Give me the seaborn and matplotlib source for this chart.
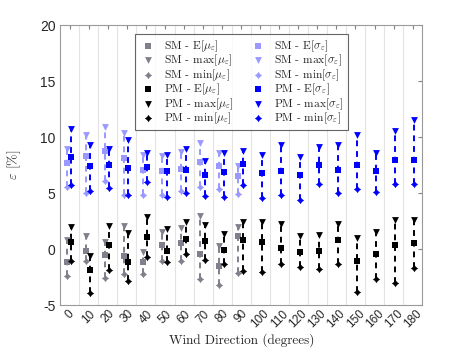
import numpy as np
import pandas as pd
import matplotlib
matplotlib.use('Agg')
import matplotlib.pyplot as plt
import seaborn as sns
from matplotlib.path import Path

# wind directions
angles = list(range(0, 181, 10))
sm_angles = angles[:10]

# PM
pm_mu_E = [0.6, -1.85, 0.35, -1.2, 1.1, -0.15, 0.9, 0.75, -0.05, 0.85, 0.65, 0.05, -0.3, -0.15, 0.85, -1.05, -0.45, 0.35, 0.55]
pm_mu_max = [1.95, -0.6, 2.05, 1.45, 2.9, 1.75, 2.45, 2.15, 1.35, 2.45, 2.4, 2.25, 1.15, 1.25, 2.25, 0.95, 1.55, 2.6, 2.55]
pm_mu_min = [-1.1, -3.95, -1.9, -2.85, -0.75, -1.15, -0.45, -0.95, -1.35, -1.95, -2.05, -1.35, -1.6, -1.8, -1.35, -3.8, -2.7, -3.05, -1.65]
pm_sig_E = [8.2, 7.4, 7.5, 7.25, 7.35, 6.95, 7.05, 6.6, 6.9, 7.6, 6.8, 6.95, 6.65, 7.5, 7.1, 7.5, 6.95, 7.95, 7.95]
pm_sig_max = [10.75, 9.3, 8.95, 9.7, 8.55, 8.4, 8.95, 7.85, 8.6, 8.8, 8.4, 9.3, 8.25, 9.1, 9.3, 10.2, 8.55, 10.5, 11.55]
pm_sig_min = [5.7, 5.15, 5.45, 4.85, 5.95, 4.65, 5.05, 4.75, 4.65, 5.7, 4.55, 4.8, 4.35, 5.85, 5.05, 5.35, 5.1, 5.85, 5.85]

# SM
sm_mu_E = [-1.15, -0.2, -0.55, -0.6, -1.15, 0.35, 0.55, -0.45, -1.5, 1.15]
sm_mu_max = [0.85, 1.15, 0.65, 2.1, -0.25, 1.55, 1.85, 2.95, 0.25, 1.95]
sm_mu_min = [-2.4, -1.1, -2.55, -2.25, -2.25, -1.05, -1.05, -2.65, -3.25, -2.15]
sm_sig_E = [7.7, 8.35, 8.75, 8.1, 7.05, 7.0, 7.15, 7.75, 7.45, 6.55]
sm_sig_max = [8.9, 10.15, 10.9, 10.35, 8.4, 8.35, 8.7, 9.5, 8.6, 7.45]
sm_sig_min = [5.55, 5.0, 6.05, 4.85, 4.85, 4.8, 5.15, 5.55, 5.35, 4.95]

sns.set_style('white')
plt.rcParams['font.family'] = ['Liberation Sans', 'DejaVu Sans']
plt.rcParams['mathtext.fontset'] = 'cm'

# diamond with small spikes, like the min marker
r, w = 0.86, 0.26
verts = [(0, 1), (w, r - w), (r - w, w), (1, 0), (r - w, -w), (w, -(r - w)), (0, -1),
         (-w, -(r - w)), (-(r - w), -w), (-1, 0), (-(r - w), w), (-w, r - w), (0, 1)]
star = Path(verts, closed=True)

grey = '#80808c'
lblue = '#9999ff'
blue = '#0000ff'

fig = plt.figure(figsize=(4.67, 3.49), dpi=100)
ax = fig.add_axes([0.129, 0.126, 0.775, 0.802])

x_sm = np.array(sm_angles) - 1.6
x_pm = np.array(angles) + 0.8

series = [
    (x_sm, sm_mu_E, sm_mu_max, sm_mu_min, grey, 'SM', r'\mu_\varepsilon'),
    (x_sm, sm_sig_E, sm_sig_max, sm_sig_min, lblue, 'SM', r'\sigma_\varepsilon'),
    (x_pm, pm_mu_E, pm_mu_max, pm_mu_min, 'black', 'PM', r'\mu_\varepsilon'),
    (x_pm, pm_sig_E, pm_sig_max, pm_sig_min, blue, 'PM', r'\sigma_\varepsilon'),
]

handles = {}
for xs, e, mx, mn, col, name, sym in series:
    ax.vlines(xs, mn, mx, colors=col, linestyles=(0, (3, 2.5)), linewidth=1.4, zorder=2)
    sns.scatterplot(x=xs, y=e, marker='s', s=18, color=col, edgecolor=col, linewidth=0, ax=ax, zorder=3)
    sns.scatterplot(x=xs, y=mx, marker='v', s=24, color=col, edgecolor=col, linewidth=0, ax=ax, zorder=3)
    sns.scatterplot(x=xs, y=mn, marker=star, s=28, color=col, edgecolor=col, linewidth=0, ax=ax, zorder=3)
    handles[(name, sym)] = [
        (ax.collections[-3], f'{name} - E[${sym}$]'),
        (ax.collections[-2], f'{name} - max[${sym}$]'),
        (ax.collections[-1], f'{name} - min[${sym}$]'),
    ]

order = []
for sym in [r'\mu_\varepsilon', r'\sigma_\varepsilon']:
    for name in ['SM', 'PM']:
        order += handles[(name, sym)]

leg = ax.legend([h for h, _ in order], [l for _, l in order], ncol=2, loc='upper center',
                bbox_to_anchor=(0.5, 0.968), borderaxespad=0, frameon=True, fancybox=False,
                prop={'size': 8.3}, handletextpad=0.6,
                labelspacing=-0.08, columnspacing=1.3, borderpad=0.35, handlelength=1.6)
leg.get_frame().set_edgecolor('#404040')
leg.get_frame().set_linewidth(0.8)
for t in leg.get_texts():
    t.set_fontfamily('cmr10')

ax.set_xlim(-5, 185)
ax.set_ylim(-5, 20)
ax.set_xticks(angles)
ax.set_xticklabels([str(a) for a in angles], rotation=45, fontsize=8.5, color='#262626')
ax.set_yticks([-5, 0, 5, 10, 15, 20])
ax.set_yticklabels(['-5', '0', '5', '10', '15', '20'], fontsize=10, color='#262626')
ax.set_xticks(np.arange(5, 180, 10), minor=True)
ax.grid(True, which='minor', axis='x', color='#e3e3e3', linewidth=0.8)
ax.grid(False, which='major')
ax.tick_params(direction='in', length=3, width=0.8, color='#808080', top=True, right=True, which='major')
ax.tick_params(axis='x', pad=2)
ax.tick_params(which='minor', length=0)
for sp in ax.spines.values():
    sp.set_color('#9a9a9a')
    sp.set_linewidth(0.8)

ax.set_xlabel('Wind Direction (degrees)', fontsize=9.5, family='cmr10', color='#262626', labelpad=2)
ax.set_ylabel(r'$\varepsilon$ [%]', fontsize=10, family='cmr10', color='#262626', labelpad=12)

fig.savefig('out.png', dpi=100)
